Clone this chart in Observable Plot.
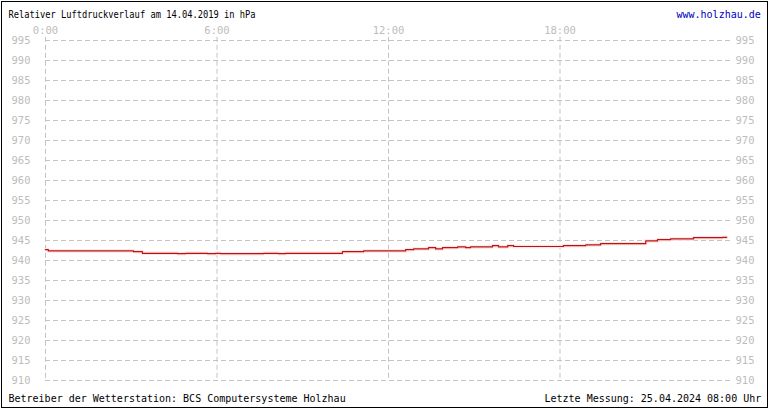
<!DOCTYPE html>
<html>
<head>
<meta charset="utf-8">
<script src="https://cdn.jsdelivr.net/npm/d3@7"></script>
<script src="https://cdn.jsdelivr.net/npm/@observablehq/plot@0.6"></script>
<style>
  html, body { margin: 0; padding: 0; background: white; }
</style>
</head>
<body>
<div id="chart"></div>
<script>
const titleText = "Relativer Luftdruckverlauf am 14.04.2019 in hPa";
const siteText = "www.holzhau.de";
const operatorText = "Betreiber der Wetterstation: BCS Computersysteme Holzhau";
const lastText = "Letzte Messung: 25.04.2024 08:00 Uhr";

const xTicks = [0, 6, 12, 18];
const xTickLabels = ["0:00", "6:00", "12:00", "18:00"];
const yTicks = [910, 915, 920, 925, 930, 935, 940, 945, 950, 955, 960, 965, 970, 975, 980, 985, 990, 995];

const hours = [0, 0.1, 3.08, 3.39, 4.62, 4.9, 5.67, 5.95, 6.12, 7.63, 8.15, 8.4, 10.39, 11.13, 12.6, 12.88, 13.4, 13.65, 13.89, 14.42, 14.7, 14.87, 15.64, 15.85, 16.17, 16.38, 18.12, 18.9, 19.42, 20.82, 21.0, 21.41, 21.87, 22.67, 23.69, 23.83];
const pressure = [942.7, 942.4, 942.2, 941.8, 941.7, 941.8, 941.7, 941.8, 941.7, 941.8, 941.7, 941.8, 942.2, 942.4, 942.7, 942.9, 943.2, 942.9, 943.2, 943.4, 943.2, 943.4, 943.7, 943.4, 943.7, 943.5, 943.7, 943.9, 944.2, 944.2, 944.9, 945.2, 945.4, 945.7, 945.8, 945.8];

const data = hours.map((h, i) => ({h, p: pressure[i]}));

const font = "'DejaVu Sans Mono', monospace";

const border = () => {
  const r = d3.create("svg:rect")
    .attr("x", 1.5).attr("y", 1.5)
    .attr("width", 766).attr("height", 406)
    .attr("fill", "none").attr("stroke", "black").attr("stroke-width", 1);
  return r.node();
};

const chart = Plot.plot({
  width: 770,
  height: 410,
  marginTop: 40,
  marginLeft: 45,
  marginRight: 39,
  marginBottom: 30,
  x: {domain: [0, 24]},
  y: {domain: [910, 995]},
  style: {fontFamily: font, fontSize: "10px", background: "white", overflow: "visible"},
  marks: [
    Plot.gridY(yTicks, {stroke: "#c4c4c4", strokeOpacity: 1, strokeDasharray: "5,3"}),
    Plot.gridX(xTicks, {stroke: "#c4c4c4", strokeOpacity: 1, strokeDasharray: "5,3", y1: 995.8, y2: 910}),
    Plot.axisY(yTicks, {anchor: "left", tickSize: 0, tickPadding: 15, label: null, fill: "#bdbdbd", fontSize: 10.5}),
    Plot.axisY(yTicks, {anchor: "right", tickSize: 0, tickPadding: 4, label: null, fill: "#bdbdbd", fontSize: 10.5}),
    Plot.axisX(xTicks, {anchor: "top", tickSize: 0, tickPadding: 7, label: null, fill: "#bdbdbd", fontSize: 10.5,
      tickFormat: (d) => xTickLabels[xTicks.indexOf(d)]}),
    Plot.line(data, {x: "h", y: "p", curve: "step-after", stroke: "#ffe2e2", strokeWidth: 3.5}),
    Plot.line(data, {x: "h", y: "p", curve: "step-after", stroke: "#b81414", strokeWidth: 1.2}),
    Plot.text([titleText], {frameAnchor: "top-left", dx: -37, dy: -23, textAnchor: "start", lineAnchor: "bottom", fill: "black", fontSize: 10.5, className: "t-title"}),
    Plot.text([siteText], {frameAnchor: "top-left", dx: 631, dy: -23, textAnchor: "start", lineAnchor: "bottom", fill: "#0000c0", fontSize: 10}),
    Plot.text([operatorText], {frameAnchor: "bottom-left", dx: -37, dy: 21, textAnchor: "start", lineAnchor: "bottom", fill: "black", fontSize: 10}),
    Plot.text([lastText], {frameAnchor: "bottom-left", dx: 499, dy: 21, textAnchor: "start", lineAnchor: "bottom", fill: "black", fontSize: 10}),
    border
  ]
});

chart.querySelectorAll(".t-title text").forEach((t) => {
  t.setAttribute("textLength", 247);
  t.setAttribute("lengthAdjust", "spacingAndGlyphs");
});

document.getElementById("chart").appendChild(chart);
</script>
</body>
</html>
